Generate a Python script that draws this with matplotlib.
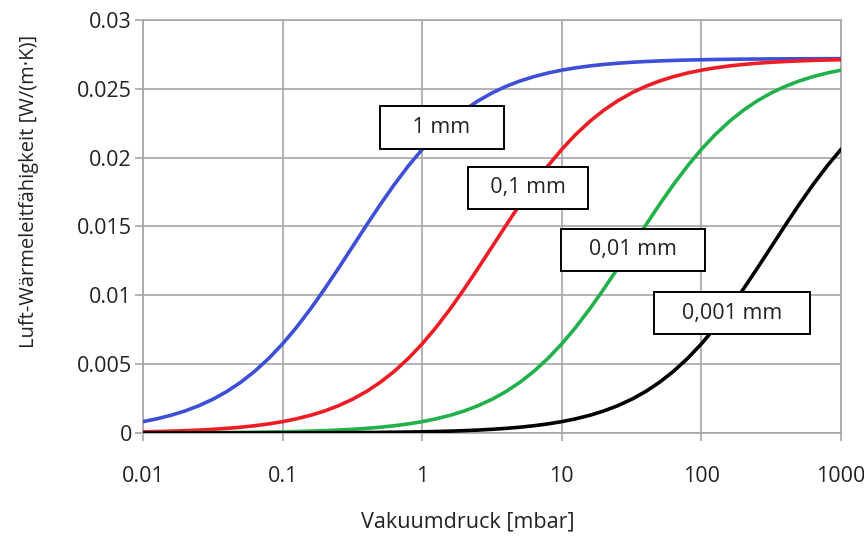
import matplotlib
matplotlib.use("Agg")
import matplotlib.pyplot as plt
from matplotlib.ticker import FixedLocator, FixedFormatter, NullLocator

plt.rcParams["font.family"] = ["Open Sans", "DejaVu Sans"]

# Vakuumdruck [mbar]
druck = [0.01, 0.0125, 0.016, 0.02, 0.025, 0.032, 0.04, 0.05, 0.063, 0.08,
         0.1, 0.125, 0.16, 0.2, 0.25, 0.32, 0.4, 0.5, 0.63, 0.8,
         1, 1.25, 1.6, 2, 2.5, 3.2, 4, 5, 6.3, 8,
         10, 12.5, 16, 20, 25, 32, 40, 50, 63, 80,
         100, 125, 160, 200, 250, 320, 400, 500, 630, 800,
         1000]

# Luft-Wärmeleitfähigkeit [W/(m·K)] je Spaltbreite
lam_1mm = [0.0008242, 0.0010226, 0.0012952, 0.0016, 0.001971,
           0.0024727, 0.0030222, 0.003676, 0.004474, 0.00544,
           0.006476, 0.00764, 0.009067, 0.010462, 0.01193,
           0.0136, 0.015111, 0.016585, 0.018038, 0.019429,
           0.020606, 0.021656, 0.022667, 0.023448, 0.024113,
           0.024727, 0.025185, 0.025564, 0.025885, 0.026154,
           0.026357, 0.026521, 0.026667, 0.026772, 0.026856,
           0.026931, 0.026984, 0.027027, 0.027063, 0.027092,
           0.027113, 0.027131, 0.027146, 0.027157, 0.027165,
           0.027173, 0.027178, 0.027183, 0.027186, 0.027189,
           0.027191]
lam_01mm = [0.0000847, 0.0001058, 0.0001353, 0.0001689, 0.0002109,
            0.0002693, 0.0003358, 0.0004185, 0.0005252, 0.0006634,
            0.0008242, 0.0010226, 0.0012952, 0.0016, 0.001971,
            0.0024727, 0.0030222, 0.003676, 0.004474, 0.00544,
            0.006476, 0.00764, 0.009067, 0.010462, 0.01193,
            0.0136, 0.015111, 0.016585, 0.018038, 0.019429,
            0.020606, 0.021656, 0.022667, 0.023448, 0.024113,
            0.024727, 0.025185, 0.025564, 0.025885, 0.026154,
            0.026357, 0.026521, 0.026667, 0.026772, 0.026856,
            0.026931, 0.026984, 0.027027, 0.027063, 0.027092,
            0.027113]
lam_001mm = [0.0000085, 0.0000106, 0.0000136, 0.000017, 0.0000213,
             0.0000272, 0.000034, 0.0000424, 0.0000535, 0.0000678,
             0.0000847, 0.0001058, 0.0001353, 0.0001689, 0.0002109,
             0.0002693, 0.0003358, 0.0004185, 0.0005252, 0.0006634,
             0.0008242, 0.0010226, 0.0012952, 0.0016, 0.001971,
             0.0024727, 0.0030222, 0.003676, 0.004474, 0.00544,
             0.006476, 0.00764, 0.009067, 0.010462, 0.01193,
             0.0136, 0.015111, 0.016585, 0.018038, 0.019429,
             0.020606, 0.021656, 0.022667, 0.023448, 0.024113,
             0.024727, 0.025185, 0.025564, 0.025885, 0.026154,
             0.026357]
lam_0001mm = [0.00000085, 0.00000106, 0.00000136, 0.0000017, 0.00000213,
              0.00000272, 0.0000034, 0.00000425, 0.00000536, 0.0000068,
              0.0000085, 0.0000106, 0.0000136, 0.000017, 0.0000213,
              0.0000272, 0.000034, 0.0000424, 0.0000535, 0.0000678,
              0.0000847, 0.0001058, 0.0001353, 0.0001689, 0.0002109,
              0.0002693, 0.0003358, 0.0004185, 0.0005252, 0.0006634,
              0.0008242, 0.0010226, 0.0012952, 0.0016, 0.001971,
              0.0024727, 0.0030222, 0.003676, 0.004474, 0.00544,
              0.006476, 0.00764, 0.009067, 0.010462, 0.01193,
              0.0136, 0.015111, 0.016585, 0.018038, 0.019429,
              0.020606]

x_ticks = [0.01, 0.1, 1, 10, 100, 1000]
x_labels = ["0.01", "0.1", "1", "10", "100", "1000"]
y_ticks = [0, 0.005, 0.01, 0.015, 0.02, 0.025, 0.03]
y_labels = ["0", "0.005", "0.01", "0.015", "0.02", "0.025", "0.03"]

# Beschriftungen der Kurven (Text, x, y)
kurven_text = ["    1 mm    ", "  0,1 mm  ", "   0,01 mm   ", "   0,001 mm   "]
text_x = [1.38, 5.7, 32.4, 166]
text_y = [0.0222, 0.0178, 0.0133, 0.0087]

fig = plt.figure(figsize=(8.64, 5.36), dpi=100)
ax = fig.add_axes([0.1655, 0.1922, 0.8079, 0.7705])

for werte, farbe in [(lam_1mm, "#3d4fd6"), (lam_01mm, "#ee1c25"),
                     (lam_001mm, "#22b04b"), (lam_0001mm, "#000000")]:
    ax.plot(druck, werte, color=farbe, lw=2.6, zorder=3,
            solid_joinstyle="round", solid_capstyle="round")

ax.set_xscale("log")
ax.set_xlim(0.01, 1000)
ax.set_ylim(0, 0.03)

ax.xaxis.set_major_locator(FixedLocator(x_ticks))
ax.xaxis.set_major_formatter(FixedFormatter(x_labels))
ax.xaxis.set_minor_locator(NullLocator())
ax.yaxis.set_major_locator(FixedLocator(y_ticks))
ax.yaxis.set_major_formatter(FixedFormatter(y_labels))

ax.grid(True, color="#a6a6a6", lw=1.2, zorder=0)
for s in ax.spines.values():
    s.set_color("#a6a6a6")
    s.set_linewidth(1.2)
ax.tick_params(axis="both", colors="#a6a6a6", labelcolor="#222222",
               labelsize=15.5, length=6, width=1.2, direction="out")
ax.tick_params(axis="x", pad=18)
ax.tick_params(axis="y", pad=2)

for t, xx, yy in zip(kurven_text, text_x, text_y):
    ax.text(xx, yy, t, fontsize=15.5, color="#222222", ha="center", va="center",
            zorder=5,
            bbox=dict(boxstyle="square,pad=0.5", fc="white", ec="black", lw=1.4))

ax.set_xlabel("Vakuumdruck [mbar]", fontsize=15.5, color="#222222")
ax.xaxis.set_label_coords(0.465, -0.189)
ax.set_ylabel("Luft-Wärmeleitfähigkeit [W/(m·K)]", fontsize=14.5, color="#222222")
ax.yaxis.set_label_coords(-0.149, 0.584)

fig.savefig("out.png", dpi=100)
